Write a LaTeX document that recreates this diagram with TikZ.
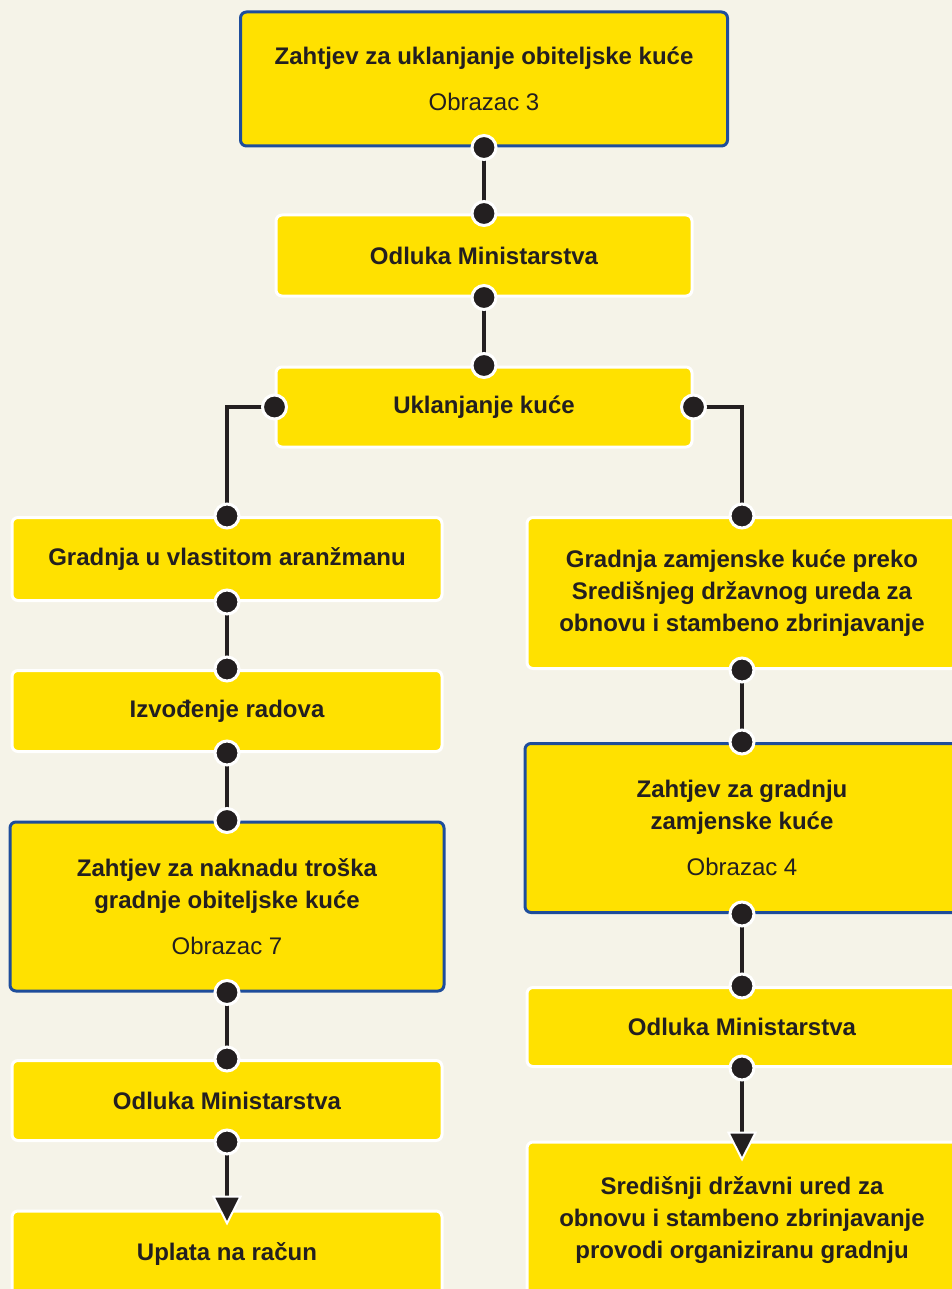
\documentclass[tikz,border=0pt]{standalone}
\usepackage{fontspec}
\setmainfont{Liberation Sans}
\usetikzlibrary{arrows.meta}
\definecolor{pozadina}{HTML}{F5F3E8}
\definecolor{zuta}{HTML}{FFE100}
\definecolor{plava}{HTML}{1E4D9B}
\definecolor{tinta}{HTML}{231F20}
\tikzstyle{korak}=[rectangle, rounded corners=6pt, fill=zuta, draw=white, line width=3pt,
  align=center, text=tinta, inner sep=0pt, font=\fontsize{24}{32}\selectfont\bfseries]
\tikzstyle{obrazac}=[korak, draw=plava]
\tikzstyle{tocka}=[circle, fill=tinta, draw=white, line width=3pt, inner sep=0pt, minimum size=24pt]
\tikzstyle{strelica}=[-{Triangle[width=30pt,length=30pt,fill=tinta,color=white,line width=2pt]}]
\newcommand{\korak}{\node[korak]}
\newcommand{\obr}[1]{\\[14pt]{\mdseries Obrazac #1}}

\begin{document}
\begin{tikzpicture}[x=1pt, y=-1pt
  ,every edge/.style={draw, tinta, line width=3.5pt}
]
\clip (0,0) rectangle (952,1289);
\fill[pozadina] (0,0) rectangle (952,1289);
% sredina
\node[obrazac, minimum width=487, minimum height=134] (b1) at (484,79) {Zahtjev za uklanjanje obiteljske kuće\obr{3}};
\korak[minimum width=416, minimum height=81] (b2) at (484,255.5) {Odluka Ministarstva};
\korak[minimum width=416, minimum height=80] (b3) at (484,407) {Uklanjanje kuće};
% lijevo
\korak[minimum width=430, minimum height=83] (l1) at (227,559) {Gradnja u vlastitom aranžmanu};
\korak[minimum width=430, minimum height=81] (l2) at (227,711) {Izvođenje radova};
\node[obrazac, minimum width=434, minimum height=169] (l3) at (227,906.5) {Zahtjev za naknadu troška\\gradnje obiteljske kuće\obr{7}};
\korak[minimum width=430, minimum height=80] (l4) at (227,1100.5) {Odluka Ministarstva};
\korak[minimum width=430, minimum height=86] (l5) at (227,1254) {Uplata na račun};
% desno
\korak[minimum width=430, minimum height=151] (r1) at (742,593) {Gradnja zamjenske kuće preko\\Središnjeg državnog ureda za\\obnovu i stambeno zbrinjavanje};
\node[obrazac, minimum width=434, minimum height=169] (r2) at (742,828) {Zahtjev za gradnju\\zamjenske kuće\obr{4}};
\korak[minimum width=430, minimum height=79] (r3) at (742,1027) {Odluka Ministarstva};
\korak[minimum width=430, minimum height=156] (r4) at (742,1220) {Središnji državni ured za\\obnovu i stambeno zbrinjavanje\\provodi organiziranu gradnju};
\path
(b1.south) edge (b2.north)
(b2.south) edge (b3.north)
(b3.west) edge[to path={-| (\tikztotarget)}] (l1.north)
(b3.east) edge[to path={-| (\tikztotarget)}] (r1.north)
(l1.south) edge (l2.north)
(l2.south) edge (l3.north)
(l3.south) edge (l4.north)
(l4.south) edge[strelica, shorten >=-16pt] (l5.north)
(r1.south) edge (r2.north)
(r2.south) edge (r3.north)
(r3.south) edge[strelica, shorten >=-21pt] (r4.north)
;
\foreach \a [count=\i] in {b1.south, b2.north, b2.south, b3.north, b3.west, b3.east,
  l1.north, l1.south, l2.north, l2.south, l3.north, l3.south, l4.north, l4.south,
  r1.north, r1.south, r2.north, r2.south, r3.north, r3.south}
  \node[tocka] (t\i) at (\a) {};
\end{tikzpicture}
\end{document}
